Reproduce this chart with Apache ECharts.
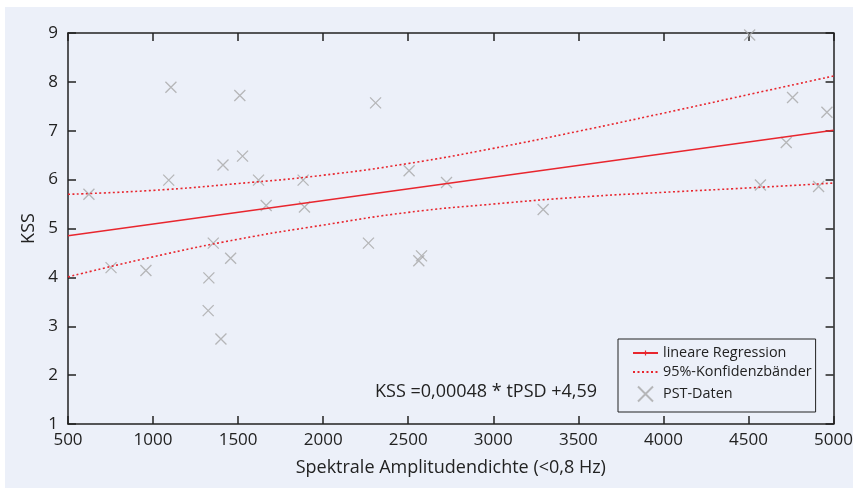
<!doctype html>
<html lang="de">
<head>
    <meta charset="UTF-8">
    <title>KSS vs. Spektrale Amplitudendichte</title>
    <script src="https://cdn.jsdelivr.net/npm/echarts@6/dist/echarts.min.js"></script>
    <style>
        html, body {
            margin: 0;
            padding: 0;
            background: #fff;
        }
        .panel {
            position: absolute;
            left: 5px;
            top: 7px;
            width: 848px;
            height: 481px;
            background: #ecf0f9;
        }
        #main {
            position: absolute;
            left: 0;
            top: 0;
            width: 856px;
            height: 488px;
        }
    </style>
</head>
<body>
<div class="panel"></div>
<div id="main"></div>
<script>
    // PST-Daten: [tPSD, KSS]
    var pstData = [
        [623, 5.70], [753, 4.20], [958, 4.14], [1105, 7.89], [1092, 5.99],
        [1328, 3.99], [1324, 3.32], [1399, 2.74], [1354, 4.70], [1411, 6.30],
        [1456, 4.39], [1510, 7.72], [1526, 6.48], [1620, 5.99], [1665, 5.47],
        [1882, 5.99], [1890, 5.44], [2266, 4.70], [2308, 7.57], [2505, 6.18],
        [2562, 4.34], [2578, 4.44], [2725, 5.94], [3293, 5.39], [4507, 8.96],
        [4570, 5.89], [4722, 6.76], [4759, 7.68], [4912, 5.86], [4961, 7.38]
    ];
    // Regressionsgerade (Endpunkte)
    var regX = [500, 5000];
    var regY = [4.85, 7.01];
    // 95%-Konfidenzbänder
    var bandX = [500, 1000, 1500, 2000, 2500, 3000, 3500, 4000, 4500, 5000];
    var bandUpper = [5.70, 5.78, 5.92, 6.09, 6.33, 6.64, 6.99, 7.36, 7.74, 8.12];
    var bandLower = [4.01, 4.42, 4.78, 5.07, 5.33, 5.50, 5.64, 5.74, 5.83, 5.93];
    var formulaText = 'KSS =0,00048 * tPSD +4,59';

    function pairs(xs, ys) {
        var out = [];
        for (var i = 0; i < xs.length; i++) {
            out.push([xs[i], ys[i]]);
        }
        return out;
    }

    var font = 'Open Sans';
    var bg = '#ecf0f9';
    var red = '#e8262e';
    var axisColor = '#222';
    var bandName = '95%-Konfidenzbänder';
    // kleiner senkrechter Strich in der Legende (Ecken-Punkte halten die Box 10x10)
    var tickIcon = 'path://M0,0h0.01v0.01h-0.01zM4.5,3h1v4h-1zM9.99,9.99h0.01v0.01h-0.01z';

    var myChart = echarts.init(document.getElementById('main'));

    var tick = {show: true, inside: true, length: 8, lineStyle: {color: axisColor, width: 1.5}};
    var line = {show: true, onZero: false, lineStyle: {color: axisColor, width: 1.5}};

    var option = {
        animation: false,
        backgroundColor: 'transparent',
        textStyle: {fontFamily: font},
        grid: {left: 68, top: 33, right: 22, bottom: 64, containLabel: false},
        xAxis: [{
            type: 'value',
            min: 500,
            max: 5000,
            interval: 500,
            axisLine: line,
            axisTick: tick,
            splitLine: {show: false},
            axisLabel: {
                color: axisColor, fontSize: 17, margin: 8, fontFamily: font,
                formatter: function (v) { return String(v); }
            },
            name: 'Spektrale Amplitudendichte (<0,8 Hz)',
            nameLocation: 'middle',
            nameGap: 35,
            nameTextStyle: {color: axisColor, fontSize: 18, fontFamily: font}
        }, {
            type: 'value',
            position: 'top',
            min: 500,
            max: 5000,
            interval: 500,
            axisLine: line,
            axisTick: tick,
            splitLine: {show: false},
            axisLabel: {show: false}
        }],
        yAxis: [{
            type: 'value',
            min: 1,
            max: 9,
            interval: 1,
            axisLine: line,
            axisTick: tick,
            splitLine: {show: false},
            axisLabel: {color: axisColor, fontSize: 17, margin: 10, fontFamily: font},
            name: 'KSS',
            nameLocation: 'middle',
            nameGap: 29,
            nameTextStyle: {color: axisColor, fontSize: 18, fontFamily: font}
        }, {
            type: 'value',
            position: 'right',
            min: 1,
            max: 9,
            interval: 1,
            axisLine: line,
            axisTick: tick,
            splitLine: {show: false},
            axisLabel: {show: false}
        }],
        legend: {
            orient: 'vertical',
            left: 618,
            top: 339,
            padding: [7, 4, 8, 14],
            itemGap: 5,
            itemWidth: 25,
            itemHeight: 15,
            borderColor: axisColor,
            borderWidth: 1,
            borderRadius: 0,
            backgroundColor: bg,
            textStyle: {color: axisColor, fontSize: 14.4, fontFamily: font},
            data: [
                {name: 'lineare Regression'},
                {name: bandName, itemStyle: {color: 'transparent', borderWidth: 0}},
                {name: 'PST-Daten'}
            ]
        },
        graphic: [{
            type: 'text',
            left: 375,
            top: 383,
            style: {text: formulaText, fill: axisColor, font: '18px "' + font + '"'}
        }],
        series: [{
            name: 'lineare Regression',
            type: 'line',
            data: pairs(regX, regY),
            symbol: tickIcon,
            showSymbol: false,
            itemStyle: {color: red},
            lineStyle: {color: red, width: 1.5},
            z: 3
        }, {
            name: bandName,
            type: 'line',
            data: pairs(bandX, bandUpper),
            smooth: true,
            symbol: 'none',
            itemStyle: {color: red},
            lineStyle: {color: red, width: 1.6, type: [2, 2.5]},
            z: 3
        }, {
            name: bandName,
            type: 'line',
            data: pairs(bandX, bandLower),
            smooth: true,
            symbol: 'none',
            itemStyle: {color: red},
            lineStyle: {color: red, width: 1.6, type: [2, 2.5]},
            z: 3
        }, {
            name: 'PST-Daten',
            type: 'scatter',
            data: pstData,
            symbol: 'path://M0,0L10,10M0,10L10,0',
            symbolSize: 11,
            itemStyle: {color: 'none', borderColor: '#a8a8a8', borderWidth: 1.3},
            z: 2
        }]
    };

    myChart.setOption(option);
</script>
</body>
</html>
